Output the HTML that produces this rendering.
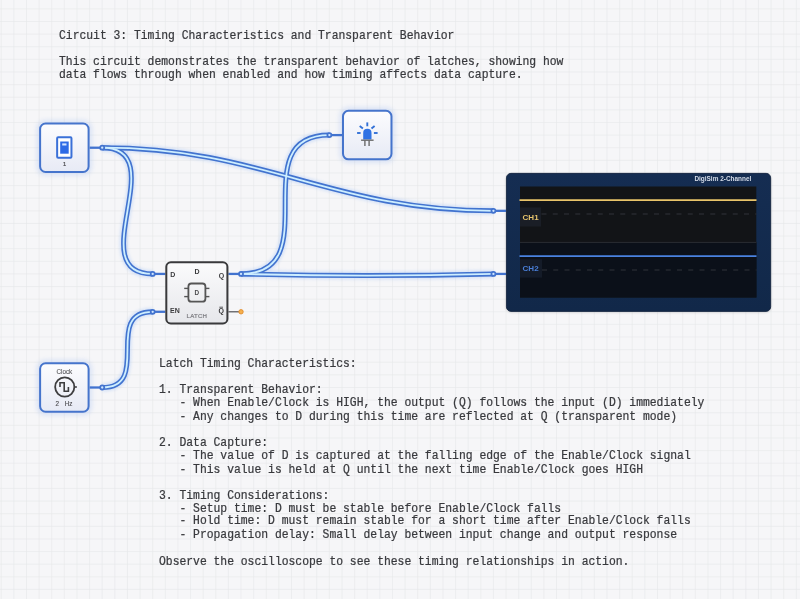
<!DOCTYPE html>
<html><head><meta charset="utf-8">
<style>
html,body{margin:0;padding:0;width:800px;height:599px;overflow:hidden;}
body{position:relative;background-color:#f6f6f8;font-family:"Liberation Sans",sans-serif;}
.mono{position:absolute;font-family:"Liberation Mono",monospace;font-size:11.37px;line-height:12.4528px;color:#38393d;white-space:pre;margin:0;-webkit-text-stroke:0.22px #38393d;transform:scaleY(1.06);transform-origin:0 0;will-change:transform;}
svg{position:absolute;left:0;top:0;font-family:"Liberation Sans",sans-serif;}
.circ{will-change:transform;}
</style></head><body>
<svg width="800" height="599" style="position:absolute;left:0;top:0;"><path d="M1.25 0V599M13.87 0V599M26.49 0V599M39.11 0V599M51.73 0V599M64.35 0V599M76.97 0V599M89.59 0V599M102.21 0V599M114.83 0V599M127.45 0V599M140.07 0V599M152.69 0V599M165.31 0V599M177.93 0V599M190.55 0V599M203.17 0V599M215.79 0V599M228.41 0V599M241.03 0V599M253.65 0V599M266.27 0V599M278.89 0V599M291.51 0V599M304.13 0V599M316.75 0V599M329.37 0V599M341.99 0V599M354.61 0V599M367.23 0V599M379.85 0V599M392.47 0V599M405.09 0V599M417.71 0V599M430.33 0V599M442.95 0V599M455.57 0V599M468.19 0V599M480.81 0V599M493.43 0V599M506.05 0V599M518.67 0V599M531.29 0V599M543.91 0V599M556.53 0V599M569.15 0V599M581.77 0V599M594.39 0V599M607.01 0V599M619.63 0V599M632.25 0V599M644.87 0V599M657.49 0V599M670.11 0V599M682.73 0V599M695.35 0V599M707.97 0V599M720.59 0V599M733.21 0V599M745.83 0V599M758.45 0V599M771.07 0V599M783.69 0V599M796.31 0V599M0 8.90H800M0 21.52H800M0 34.14H800M0 46.76H800M0 59.38H800M0 72.00H800M0 84.62H800M0 97.24H800M0 109.86H800M0 122.48H800M0 135.10H800M0 147.72H800M0 160.34H800M0 172.96H800M0 185.58H800M0 198.20H800M0 210.82H800M0 223.44H800M0 236.06H800M0 248.68H800M0 261.30H800M0 273.92H800M0 286.54H800M0 299.16H800M0 311.78H800M0 324.40H800M0 337.02H800M0 349.64H800M0 362.26H800M0 374.88H800M0 387.50H800M0 400.12H800M0 412.74H800M0 425.36H800M0 437.98H800M0 450.60H800M0 463.22H800M0 475.84H800M0 488.46H800M0 501.08H800M0 513.70H800M0 526.32H800M0 538.94H800M0 551.56H800M0 564.18H800M0 576.80H800M0 589.42H800" stroke="#e6e7ea" stroke-width="0.6" fill="none"/></svg>
<pre class="mono" style="left:58.5px;top:28.7px;">Circuit 3: Timing Characteristics and Transparent Behavior

This circuit demonstrates the transparent behavior of latches, showing how
data flows through when enabled and how timing affects data capture.</pre>
<pre class="mono" style="left:158.6px;top:356.9px;">Latch Timing Characteristics:

1. Transparent Behavior:
   - When Enable/Clock is HIGH, the output (Q) follows the input (D) immediately
   - Any changes to D during this time are reflected at Q (transparent mode)

2. Data Capture:
   - The value of D is captured at the falling edge of the Enable/Clock signal
   - This value is held at Q until the next time Enable/Clock goes HIGH

3. Timing Considerations:
   - Setup time: D must be stable before Enable/Clock falls
   - Hold time: D must remain stable for a short time after Enable/Clock falls
   - Propagation delay: Small delay between input change and output response

Observe the oscilloscope to see these timing relationships in action.</pre>
<svg class="circ" width="800" height="599" viewBox="0 0 800 599">
<defs>
<linearGradient id="gBox" x1="0" y1="0" x2="0" y2="1">
<stop offset="0" stop-color="#fcfcfe"/><stop offset="1" stop-color="#e7eaf5"/>
</linearGradient>
<linearGradient id="gScope" x1="0" y1="0" x2="0" y2="1"><stop offset="0" stop-color="#152d52"/><stop offset="1" stop-color="#112849"/></linearGradient>
<linearGradient id="gLatch" x1="0" y1="0" x2="0" y2="1">
<stop offset="0" stop-color="#fbfbfc"/><stop offset="1" stop-color="#e6e7eb"/>
</linearGradient>
<filter id="glow" x="-30%" y="-30%" width="160%" height="160%"><feGaussianBlur stdDeviation="2.5"/></filter>
<filter id="sh" x="-10%" y="-20%" width="120%" height="140%"><feGaussianBlur stdDeviation="1.6"/></filter>
<filter id="blur1" x="-10%" y="-10%" width="120%" height="120%"><feGaussianBlur stdDeviation="1.5"/></filter>
</defs>
<g fill="none" stroke="#8fb0f0" stroke-width="3" opacity="0.45" filter="url(#glow)"><rect x="39.11" y="122.48" width="50.48" height="50.48" rx="6"/><rect x="341.99" y="109.86" width="50.48" height="50.48" rx="6"/><rect x="39.11" y="362.26" width="50.48" height="50.48" rx="6"/></g>
<g fill="#000" opacity="0.22" filter="url(#sh)"><rect x="506.5" y="174.5" width="264" height="137.5" rx="5"/></g>
<line x1="89.59" y1="147.72" x2="102.21" y2="147.72" stroke="#4273cf" stroke-width="2.3"/><line x1="89.59" y1="387.50" x2="102.21" y2="387.50" stroke="#4273cf" stroke-width="2.3"/><line x1="329.37" y1="135.10" x2="341.99" y2="135.10" stroke="#4273cf" stroke-width="2.3"/><line x1="152.69" y1="273.92" x2="165.31" y2="273.92" stroke="#4273cf" stroke-width="2.3"/><line x1="152.69" y1="311.78" x2="165.31" y2="311.78" stroke="#4273cf" stroke-width="2.3"/><line x1="228.41" y1="273.92" x2="241.03" y2="273.92" stroke="#4273cf" stroke-width="2.3"/><line x1="493.43" y1="210.82" x2="506.05" y2="210.82" stroke="#4273cf" stroke-width="2.3"/><line x1="493.43" y1="273.92" x2="506.05" y2="273.92" stroke="#4273cf" stroke-width="2.3"/>
<line x1="228.41" y1="311.78" x2="241.03" y2="311.78" stroke="#5e5e62" stroke-width="1.3"/>
<g fill="none" stroke-linecap="butt"><g stroke="#8ab4f5" stroke-width="8" opacity="0.3" filter="url(#blur1)"><path d="M102.21 147.72 C 174.21 147.72, 80.69 273.92, 152.69 273.92"/><path d="M102.21 147.72 C 266.21 147.72, 329.43 210.82, 493.43 210.82"/><path d="M241.03 273.92 C 329.37 273.92, 241.03 135.10, 329.37 135.10"/><path d="M241.03 273.92 C 330 276.2, 405 276.2, 493.43 273.92"/><path d="M102.21 387.50 C 152.69 387.50, 102.21 311.78, 152.69 311.78"/></g><g stroke="#4273cf" stroke-width="5"><path id="w0" d="M102.21 147.72 C 174.21 147.72, 80.69 273.92, 152.69 273.92"/><path id="w1" d="M102.21 147.72 C 266.21 147.72, 329.43 210.82, 493.43 210.82"/><path id="w2" d="M241.03 273.92 C 329.37 273.92, 241.03 135.10, 329.37 135.10"/><path id="w3" d="M241.03 273.92 C 330 276.2, 405 276.2, 493.43 273.92"/><path id="w4" d="M102.21 387.50 C 152.69 387.50, 102.21 311.78, 152.69 311.78"/></g><g stroke="#cdeeff" stroke-width="1.8"><use href="#w0"/><use href="#w1"/><use href="#w2"/><use href="#w3"/><use href="#w4"/></g></g>
<circle cx="102.21" cy="147.72" r="2.9" fill="#4273cf"/><circle cx="102.21" cy="147.72" r="1.15" fill="#cfe6ff"/><circle cx="102.21" cy="387.50" r="2.9" fill="#4273cf"/><circle cx="102.21" cy="387.50" r="1.15" fill="#cfe6ff"/><circle cx="329.37" cy="135.10" r="2.9" fill="#4273cf"/><circle cx="329.37" cy="135.10" r="1.15" fill="#cfe6ff"/><circle cx="152.69" cy="273.92" r="2.9" fill="#4273cf"/><circle cx="152.69" cy="273.92" r="1.15" fill="#cfe6ff"/><circle cx="152.69" cy="311.78" r="2.9" fill="#4273cf"/><circle cx="152.69" cy="311.78" r="1.15" fill="#cfe6ff"/><circle cx="241.03" cy="273.92" r="2.9" fill="#4273cf"/><circle cx="241.03" cy="273.92" r="1.15" fill="#cfe6ff"/><circle cx="493.43" cy="210.82" r="2.9" fill="#4273cf"/><circle cx="493.43" cy="210.82" r="1.15" fill="#cfe6ff"/><circle cx="493.43" cy="273.92" r="2.9" fill="#4273cf"/><circle cx="493.43" cy="273.92" r="1.15" fill="#cfe6ff"/>
<circle cx="241.03" cy="311.78" r="2.2" fill="#f5b04e" stroke="#e08a2a" stroke-width="0.9"/>
<rect x="40.11" y="123.48" width="48.48" height="48.48" rx="5.5" fill="url(#gBox)" stroke="#4574cc" stroke-width="2"/>
<rect x="57.15" y="137.15" width="14.3" height="20.7" rx="1" fill="#ffffff" stroke="#3a70d8" stroke-width="2"/>
<rect x="60.2" y="141.5" width="8.5" height="12.2" fill="#2e6be6"/>
<rect x="62.2" y="143.4" width="4.3" height="2.1" fill="#d2e3ff"/>
<text x="64.7" y="166.1" font-size="5.8" fill="#4a4a4e" stroke="#4a4a4e" stroke-width="0.2" text-anchor="middle">1</text>
<rect x="342.99" y="110.86" width="48.48" height="48.48" rx="5.5" fill="url(#gBox)" stroke="#4574cc" stroke-width="2"/>
<g stroke="#3270d6" stroke-width="1.9" stroke-linecap="butt">
<line x1="367.3" y1="122.4" x2="367.3" y2="126.3"/>
<line x1="359.7" y1="126" x2="362.9" y2="128.6"/>
<line x1="374.6" y1="126" x2="371.5" y2="128.6"/>
<line x1="357.1" y1="133" x2="360.6" y2="133"/>
<line x1="373.9" y1="133" x2="377.6" y2="133"/>
</g>
<path d="M363.2 139.6 V133 A4.15 4.15 0 0 1 371.5 133 V139.6 Z" fill="#2f72e4"/>
<g stroke="#6a6a6a" stroke-width="1.4">
<line x1="361.1" y1="140.2" x2="373.6" y2="140.2"/>
<line x1="364.9" y1="140.2" x2="364.9" y2="145.9"/>
<line x1="369.1" y1="140.2" x2="369.1" y2="145.9"/>
</g>
<rect x="40.11" y="363.26" width="48.48" height="48.48" rx="5.5" fill="url(#gBox)" stroke="#4574cc" stroke-width="2"/>
<text x="64.4" y="373.8" font-size="6.3" fill="#5c5c60" text-anchor="middle" stroke="#5c5c60" stroke-width="0.12">Clock</text>
<circle cx="64.75" cy="387" r="9.6" fill="none" stroke="#3e3e40" stroke-width="1.8"/>
<line x1="74.3" y1="387" x2="76.9" y2="387" stroke="#3e3e40" stroke-width="1.5"/>
<path d="M60 387 V382.8 H64.2 V391.2 H68.4 V387" fill="none" stroke="#3e3e40" stroke-width="1.6"/>
<text x="55.6" y="405.6" font-size="6.3" fill="#4a4a4e" stroke="#4a4a4e" stroke-width="0.12">2</text>
<text x="64.8" y="405.6" font-size="6.3" fill="#4a4a4e" stroke="#4a4a4e" stroke-width="0.12">Hz</text>
<rect x="166.31" y="262.30" width="61.10" height="61.10" rx="4.5" fill="url(#gLatch)" stroke="#3a3a3c" stroke-width="2"/>
<g font-size="7" font-weight="bold" fill="#3a3a3c">
<text x="170.2" y="277.3">D</text>
<text x="194.5" y="273.6">D</text>
<text x="218.8" y="277.6">Q</text>
<text x="170" y="313">EN</text>
<text x="218.5" y="313">Q</text>
</g>
<line x1="219.3" y1="307.2" x2="223" y2="307.2" stroke="#3a3a3c" stroke-width="0.8"/>
<rect x="188.4" y="283.5" width="17" height="18.2" rx="3" fill="none" stroke="#555" stroke-width="1.8"/>
<g stroke="#555" stroke-width="1.4">
<line x1="184.2" y1="288.4" x2="188.4" y2="288.4"/>
<line x1="184.2" y1="296.6" x2="188.4" y2="296.6"/>
<line x1="205.4" y1="288.4" x2="209.4" y2="288.4"/>
<line x1="205.4" y1="296.6" x2="209.4" y2="296.6"/>
</g>
<text x="196.9" y="295.1" font-size="6.4" font-weight="bold" fill="#4a4a4c" text-anchor="middle">D</text>
<text x="196.9" y="317.8" font-size="6.1" letter-spacing="0.25" fill="#7c7c80" text-anchor="middle" stroke="#7c7c80" stroke-width="0.2">LATCH</text>
<rect x="506.45" y="173.36" width="264.22" height="138.02" rx="4.5" fill="url(#gScope)" stroke="#0d1d38" stroke-width="0.8"/>
<rect x="520" y="186.5" width="236.3" height="111" fill="#121417"/>
<rect x="520" y="242" width="236.5" height="55.5" fill="#0b1019"/>
<line x1="520" y1="242.4" x2="756.5" y2="242.4" stroke="#2a2d33" stroke-width="1"/>
<line x1="519.5" y1="200.2" x2="756.5" y2="200.2" stroke="#e9c46a" stroke-width="1.8"/>
<line x1="519.5" y1="256.2" x2="756.5" y2="256.2" stroke="#4a82e0" stroke-width="1.8"/>
<g stroke="#30333a" stroke-width="1" stroke-dasharray="5 6.25">
<line x1="541.5" y1="214" x2="756.5" y2="214"/>
<line x1="542" y1="270" x2="756.5" y2="270"/>
</g>
<rect x="520" y="207.5" width="21" height="19" fill="#1a1e26"/>
<rect x="520" y="259.3" width="22" height="18.3" fill="#141b28"/>
<text x="522.6" y="220.2" font-size="8" font-weight="bold" fill="#e8c46c">CH1</text>
<text x="522.6" y="271" font-size="8" font-weight="bold" fill="#4a7fd8">CH2</text>
<text x="751.3" y="181.2" font-size="6.45" font-weight="bold" fill="#d5dce8" text-anchor="end">DigiSim 2-Channel</text>
</svg>
</body></html>
